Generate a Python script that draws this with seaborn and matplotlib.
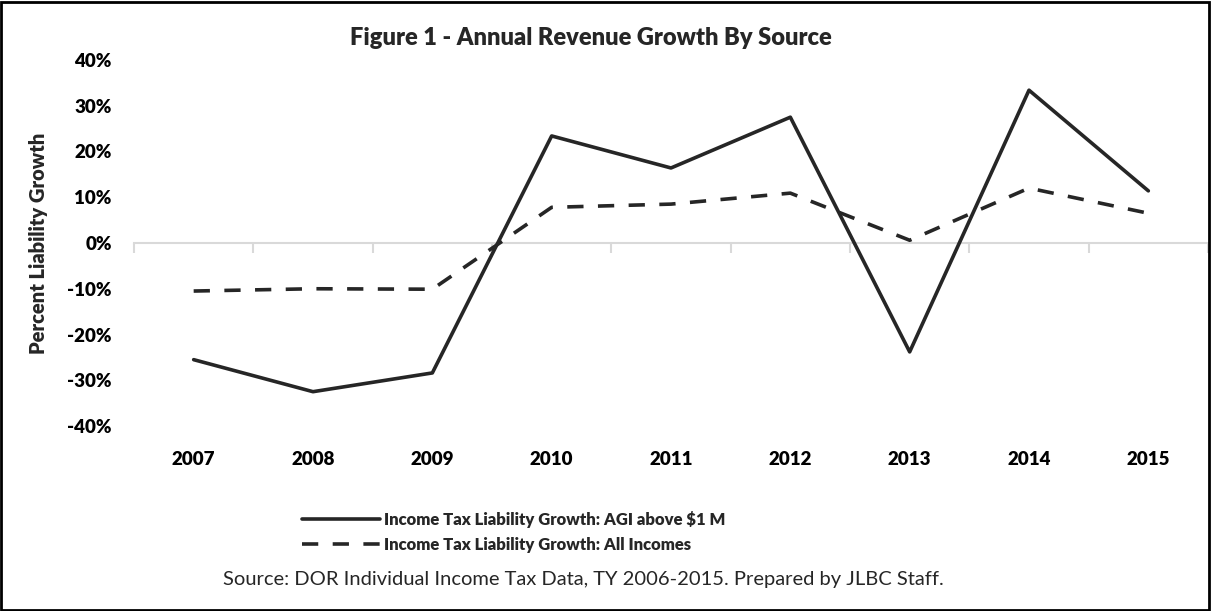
import matplotlib
matplotlib.use("Agg")
import matplotlib.pyplot as plt
import matplotlib.ticker as mticker
from matplotlib.patches import Rectangle
from matplotlib.lines import Line2D
import seaborn as sns
import pandas as pd
import numpy as np

years = ["2007", "2008", "2009", "2010", "2011", "2012", "2013", "2014", "2015"]
agi_above_1m = [-0.255, -0.325, -0.284, 0.234, 0.164, 0.275, -0.238, 0.334, 0.114]
all_incomes = [-0.105, -0.100, -0.101, 0.078, 0.085, 0.109, 0.006, 0.120, 0.065]
series_names = ["Income Tax Liability Growth: AGI above $1 M",
                "Income Tax Liability Growth: All Incomes"]
y_ticks = [-0.4, -0.3, -0.2, -0.1, 0.0, 0.1, 0.2, 0.3, 0.4]
title = "Figure 1 - Annual Revenue Growth By Source"
ylabel = "Percent Liability Growth"
source = "Source: DOR Individual Income Tax Data, TY 2006-2015. Prepared by JLBC Staff."

sns.set_theme(style="white")
plt.rcParams['font.family'] = ['Lato', 'DejaVu Sans']
plt.rcParams['axes.unicode_minus'] = False

df = pd.DataFrame({
    "pos": list(range(len(years))) * 2,
    "value": agi_above_1m + all_incomes,
    "series": [series_names[0]] * len(years) + [series_names[1]] * len(years),
})

W, H = 1211, 611
fig = plt.figure(figsize=(W / 100, H / 100), dpi=100)
ax = fig.add_axes([134 / W, 1 - 426 / H, (1208 - 134) / W, (426 - 60) / H])

color = "#262626"
dash = (4.5, 4.0)
sns.lineplot(data=df, x="pos", y="value", style="series", ax=ax,
             color=color, linewidth=2.6, legend=False,
             dashes={series_names[0]: "", series_names[1]: dash},
             style_order=series_names, zorder=3)

ax.set_xlim(-0.5, len(years) - 0.5)
ax.set_ylim(-0.4, 0.4)
ax.set_yticks(y_ticks)
ax.yaxis.set_major_formatter(mticker.PercentFormatter(1.0, decimals=0))
ax.set_xticks(range(len(years)))
ax.set_xticklabels(years)
ax.set_xticks(np.arange(-0.5, len(years), 1.0), minor=True)

for name, s in ax.spines.items():
    s.set_visible(name == "bottom")
ax.spines["bottom"].set_position(("data", 0))
ax.spines["bottom"].set_color("#d9d9d9")
ax.spines["bottom"].set_linewidth(1.5)
ax.spines["bottom"].set_zorder(1)

ax.tick_params(axis="both", which="major", length=0, labelsize=13.5, colors="black")
ax.tick_params(axis="x", which="minor", direction="out", length=7, width=1.5,
               color="#d9d9d9", bottom=True)
ax.tick_params(axis="x", which="major", pad=150)
ax.tick_params(axis="y", pad=16)
for lbl in ax.get_xticklabels() + ax.get_yticklabels():
    lbl.set_fontweight("heavy")
ax.set_xlabel("")
ax.set_ylabel(ylabel, fontsize=14.5, fontweight="heavy")
ax.yaxis.set_label_coords(-0.08, 0.5)

fig.text(0.488, 1 - 38 / H, title, ha="center", va="center",
         fontsize=17, fontweight="heavy")

handles = [Line2D([], [], color=color, linewidth=2.6),
           Line2D([], [], color=color, linewidth=2.6, dashes=dash)]
leg = fig.legend(handles, series_names, loc="upper left",
                 bbox_to_anchor=(287 / W, 1 - 496 / H), frameon=False,
                 prop={"weight": "heavy", "size": 12},
                 handlelength=4.7, handletextpad=0.2, labelspacing=0.55)

fig.text(0.482, 1 - 580 / H, source, ha="center", va="center", fontsize=14.5)

fig.patches.append(Rectangle((0.001, 0.002), 0.997, 0.995, transform=fig.transFigure,
                             fill=False, edgecolor="black", linewidth=2))

fig.savefig("out.png", dpi=100)
